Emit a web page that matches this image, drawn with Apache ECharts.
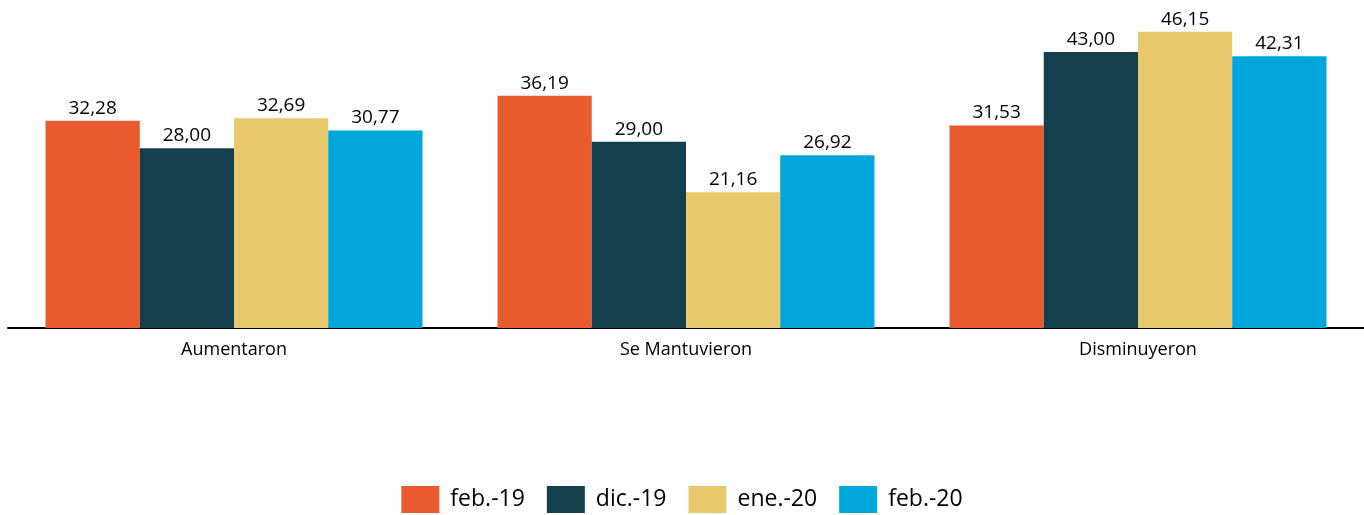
<!DOCTYPE html>
<html>
<head>
<meta charset="utf-8">
<script src="https://cdn.jsdelivr.net/npm/echarts@6/dist/echarts.min.js"></script>
<style>
  html, body { margin: 0; padding: 0; background: #fff; }
  #main { width: 1364px; height: 515px; }
</style>
</head>
<body>
<div id="main"></div>
<script>
// categorias y series
const categories = ['Aumentaron', 'Se Mantuvieron', 'Disminuyeron'];
const seriesNames = ['feb.-19', 'dic.-19', 'ene.-20', 'feb.-20'];
const feb19 = [32.28, 36.19, 31.53];
const dic19 = [28.00, 29.00, 43.00];
const ene20 = [32.69, 21.16, 46.15];
const feb20 = [30.77, 26.92, 42.31];
const colors = ['#E95A2F', '#143F4D', '#E8C96C', '#00A6DC'];

const chart = echarts.init(document.getElementById('main'));
const font = '"Open Sans", "Liberation Sans", sans-serif';

const makeSeries = (name, data, i) => ({
  name: name,
  type: 'bar',
  data: data,
  barGap: '0%',
  barCategoryGap: '16.6%',
  itemStyle: { color: colors[i] },
  label: {
    show: true,
    position: 'top',
    distance: 3,
    color: '#000',
    fontFamily: font,
    fontSize: 19,
    formatter: p => p.value.toFixed(2).replace('.', ',')
  }
});

const option = {
  animation: false,
  grid: { left: 8, right: 0, top: 7, bottom: 187 },
  legend: {
    bottom: -3,
    left: 'center',
    itemWidth: 38,
    itemHeight: 27,
    itemGap: 22,
    icon: 'rect',
    textStyle: { fontFamily: font, fontSize: 23, color: '#000', padding: [0, 0, 0, 6] },
    data: seriesNames
  },
  xAxis: {
    type: 'category',
    data: categories,
    axisTick: { show: false },
    axisLine: { lineStyle: { color: '#000', width: 2 } },
    axisLabel: { color: '#000', fontFamily: font, fontSize: 18, margin: 13 }
  },
  yAxis: {
    type: 'value',
    min: 0,
    max: 50,
    show: false
  },
  series: [
    makeSeries(seriesNames[0], feb19, 0),
    makeSeries(seriesNames[1], dic19, 1),
    makeSeries(seriesNames[2], ene20, 2),
    makeSeries(seriesNames[3], feb20, 3)
  ]
};

chart.setOption(option);
</script>
</body>
</html>
